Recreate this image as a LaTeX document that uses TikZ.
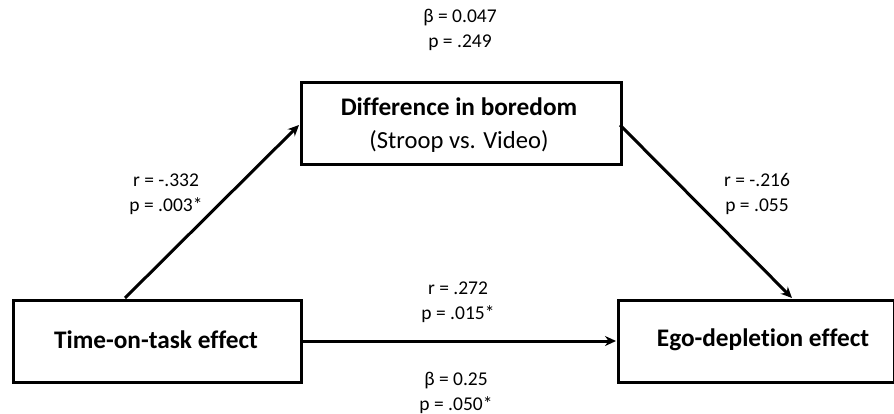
\documentclass[tikz,border=0pt]{standalone}
\usepackage{fontspec}
\setmainfont[Ligatures={NoCommon,NoContextual,NoRare}]{Carlito}
\usetikzlibrary{arrows.meta}
\begin{document}
\begin{tikzpicture}[x=1pt,y=-1pt,
  box/.style={draw=black,line width=3.3pt,inner sep=0pt,anchor=north west},
  boxt/.style={font=\fontsize{25.3}{30}\selectfont\bfseries,inner sep=0pt},
  lbl/.style={font=\fontsize{19.5}{25}\selectfont,align=center,inner sep=0pt},
  conn/.style={line width=3pt,-{Stealth[length=11pt,width=10pt]}}]
\useasboundingbox[fill=white] (0,0) rectangle (894,414);
\node[box,minimum width=320pt,minimum height=82pt] (med) at (300,81) {};
\node[box,minimum width=288pt,minimum height=82pt] (tot) at (12,299) {};
\node[box,minimum width=276pt,minimum height=82pt] (ego) at (617,299) {};
\node[boxt] (medt) at (459,107) {Difference in boredom};
\node[font=\fontsize{24.6}{30}\selectfont,inner sep=0pt] (meds) at (459,141) {(Stroop vs. Video)};
\node[boxt] (tott) at (156,340) {Time-on-task effect};
\node[boxt] (egot) at (763,340) {Ego-depletion effect};
\coordinate (a1) at (125,298);
\coordinate (a2) at (299,125);
\coordinate (b1) at (620,125);
\coordinate (b2) at (792,298);
\coordinate (c1) at (300,341);
\coordinate (c2) at (616,341);
\draw[conn] (a1) -- (a2);
\draw[conn] (b1) -- (b2);
\draw[conn] (c1) -- (c2);
\node[lbl] (l1) at (460,30) {β = 0.047\\p = .249};
\node[lbl] (l2) at (166,194) {r = -.332\\p = .003*};
\node[lbl] (l3) at (757,194) {r = -.216\\p = .055};
\node[lbl] (l4) at (458,302) {r = .272\\p = .015*};
\node[lbl] (l5) at (456,393) {β = 0.25\\p = .050*};
\end{tikzpicture}
\end{document}
